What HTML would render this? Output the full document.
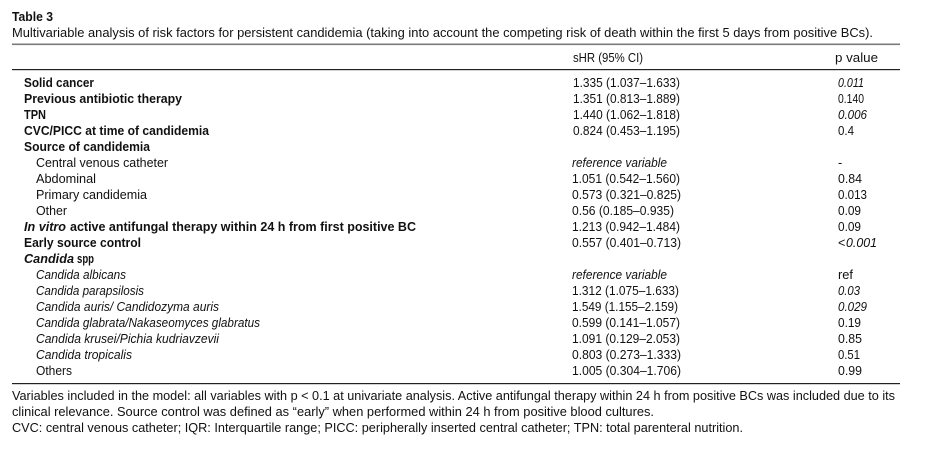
<!DOCTYPE html>
<html><head><meta charset="utf-8">
<style>
html,body{margin:0;padding:0;background:#fff;}
svg{display:block;}
text{font-family:"Liberation Sans",sans-serif;font-size:12.6px;fill:#111;}
.b{font-weight:bold;}
.i{font-style:italic;}
</style></head>
<body>
<svg width="925" height="450" viewBox="0 0 925 450" xmlns="http://www.w3.org/2000/svg">
<rect width="925" height="450" fill="#fff"/>
<text class="b" x="12" y="21" textLength="41" lengthAdjust="spacingAndGlyphs">Table 3</text>
<text x="12" y="37" textLength="861" lengthAdjust="spacingAndGlyphs">Multivariable analysis of risk factors for persistent candidemia (taking into account the competing risk of death within the first 5 days from positive BCs).</text>
<rect x="12" y="43.5" width="888" height="1.6" fill="#7a7a7a"/>
<text x="573" y="62" textLength="70" lengthAdjust="spacingAndGlyphs">sHR (95% CI)</text>
<text x="835" y="62" textLength="43" lengthAdjust="spacingAndGlyphs">p value</text>
<rect x="12" y="69" width="888" height="1.2" fill="#222"/>

<text class="b" x="24" y="87" textLength="70" lengthAdjust="spacingAndGlyphs">Solid cancer</text>
<text x="573" y="87" textLength="107" lengthAdjust="spacingAndGlyphs">1.335 (1.037–1.633)</text>
<text class="i" x="838" y="87" textLength="26" lengthAdjust="spacingAndGlyphs">0.011</text>

<text class="b" x="24" y="103" textLength="158" lengthAdjust="spacingAndGlyphs">Previous antibiotic therapy</text>
<text x="573" y="103" textLength="107" lengthAdjust="spacingAndGlyphs">1.351 (0.813–1.889)</text>
<text x="838" y="103" textLength="26" lengthAdjust="spacingAndGlyphs">0.140</text>

<text class="b" x="24" y="119" textLength="22" lengthAdjust="spacingAndGlyphs">TPN</text>
<text x="573" y="119" textLength="107" lengthAdjust="spacingAndGlyphs">1.440 (1.062–1.818)</text>
<text class="i" x="838" y="119" textLength="29" lengthAdjust="spacingAndGlyphs">0.006</text>

<text class="b" x="24" y="135" textLength="185" lengthAdjust="spacingAndGlyphs">CVC/PICC at time of candidemia</text>
<text x="573" y="135" textLength="107" lengthAdjust="spacingAndGlyphs">0.824 (0.453–1.195)</text>
<text x="838" y="135" textLength="16" lengthAdjust="spacingAndGlyphs">0.4</text>

<text class="b" x="24" y="151" textLength="126" lengthAdjust="spacingAndGlyphs">Source of candidemia</text>

<text x="36" y="167" textLength="132" lengthAdjust="spacingAndGlyphs">Central venous catheter</text>
<text class="i" x="572" y="167" textLength="95" lengthAdjust="spacingAndGlyphs">reference variable</text>
<text x="838" y="167">-</text>

<text x="36" y="183" textLength="60" lengthAdjust="spacingAndGlyphs">Abdominal</text>
<text x="572" y="183" textLength="108" lengthAdjust="spacingAndGlyphs">1.051 (0.542–1.560)</text>
<text x="838" y="183" textLength="24" lengthAdjust="spacingAndGlyphs">0.84</text>

<text x="36" y="199" textLength="111" lengthAdjust="spacingAndGlyphs">Primary candidemia</text>
<text x="572" y="199" textLength="109" lengthAdjust="spacingAndGlyphs">0.573 (0.321–0.825)</text>
<text x="838" y="199" textLength="29" lengthAdjust="spacingAndGlyphs">0.013</text>

<text x="36" y="215" textLength="31" lengthAdjust="spacingAndGlyphs">Other</text>
<text x="572" y="215" textLength="102" lengthAdjust="spacingAndGlyphs">0.56 (0.185–0.935)</text>
<text x="838" y="215" textLength="23" lengthAdjust="spacingAndGlyphs">0.09</text>

<text class="b i" x="24" y="231" textLength="42" lengthAdjust="spacingAndGlyphs">In vitro</text>
<text class="b" x="70" y="231" textLength="346" lengthAdjust="spacingAndGlyphs">active antifungal therapy within 24 h from first positive BC</text>
<text x="572" y="231" textLength="108" lengthAdjust="spacingAndGlyphs">1.213 (0.942–1.484)</text>
<text x="838" y="231" textLength="23" lengthAdjust="spacingAndGlyphs">0.09</text>

<text class="b" x="24" y="247" textLength="117" lengthAdjust="spacingAndGlyphs">Early source control</text>
<text x="572" y="247" textLength="109" lengthAdjust="spacingAndGlyphs">0.557 (0.401–0.713)</text>
<text x="838" y="247">&lt;</text>
<text class="i" x="846" y="247" textLength="31" lengthAdjust="spacingAndGlyphs">0.001</text>

<text class="b i" x="24" y="263" textLength="50" lengthAdjust="spacingAndGlyphs">Candida</text>
<text class="b" x="77" y="263" textLength="17" lengthAdjust="spacingAndGlyphs">spp</text>

<text class="i" x="36" y="279" textLength="90" lengthAdjust="spacingAndGlyphs">Candida albicans</text>
<text class="i" x="572" y="279" textLength="95" lengthAdjust="spacingAndGlyphs">reference variable</text>
<text x="838" y="279" textLength="15" lengthAdjust="spacingAndGlyphs">ref</text>

<text class="i" x="36" y="295" textLength="108" lengthAdjust="spacingAndGlyphs">Candida parapsilosis</text>
<text x="572" y="295" textLength="107" lengthAdjust="spacingAndGlyphs">1.312 (1.075–1.633)</text>
<text class="i" x="838" y="295" textLength="22" lengthAdjust="spacingAndGlyphs">0.03</text>

<text class="i" x="36" y="311" textLength="183" lengthAdjust="spacingAndGlyphs">Candida auris/ Candidozyma auris</text>
<text x="572" y="311" textLength="106" lengthAdjust="spacingAndGlyphs">1.549 (1.155–2.159)</text>
<text class="i" x="838" y="311" textLength="29" lengthAdjust="spacingAndGlyphs">0.029</text>

<text class="i" x="36" y="327" textLength="224" lengthAdjust="spacingAndGlyphs">Candida glabrata/Nakaseomyces glabratus</text>
<text x="572" y="327" textLength="108" lengthAdjust="spacingAndGlyphs">0.599 (0.141–1.057)</text>
<text x="838" y="327" textLength="23" lengthAdjust="spacingAndGlyphs">0.19</text>

<text class="i" x="36" y="343" textLength="183" lengthAdjust="spacingAndGlyphs">Candida krusei/Pichia kudriavzevii</text>
<text x="572" y="343" textLength="108" lengthAdjust="spacingAndGlyphs">1.091 (0.129–2.053)</text>
<text x="838" y="343" textLength="24" lengthAdjust="spacingAndGlyphs">0.85</text>

<text class="i" x="36" y="359" textLength="96" lengthAdjust="spacingAndGlyphs">Candida tropicalis</text>
<text x="572" y="359" textLength="109" lengthAdjust="spacingAndGlyphs">0.803 (0.273–1.333)</text>
<text x="838" y="359" textLength="22" lengthAdjust="spacingAndGlyphs">0.51</text>

<text x="36" y="375" textLength="36" lengthAdjust="spacingAndGlyphs">Others</text>
<text x="572" y="375" textLength="109" lengthAdjust="spacingAndGlyphs">1.005 (0.304–1.706)</text>
<text x="838" y="375" textLength="24" lengthAdjust="spacingAndGlyphs">0.99</text>

<rect x="12" y="383" width="888" height="1.2" fill="#222"/>

<text x="12" y="400" textLength="883" lengthAdjust="spacingAndGlyphs">Variables included in the model: all variables with p &lt; 0.1 at univariate analysis. Active antifungal therapy within 24 h from positive BCs was included due to its</text>
<text x="12" y="416" textLength="642" lengthAdjust="spacingAndGlyphs">clinical relevance. Source control was defined as “early” when performed within 24 h from positive blood cultures.</text>
<text x="12" y="432" textLength="731" lengthAdjust="spacingAndGlyphs">CVC: central venous catheter; IQR: Interquartile range; PICC: peripherally inserted central catheter; TPN: total parenteral nutrition.</text>
</svg>
</body></html>
